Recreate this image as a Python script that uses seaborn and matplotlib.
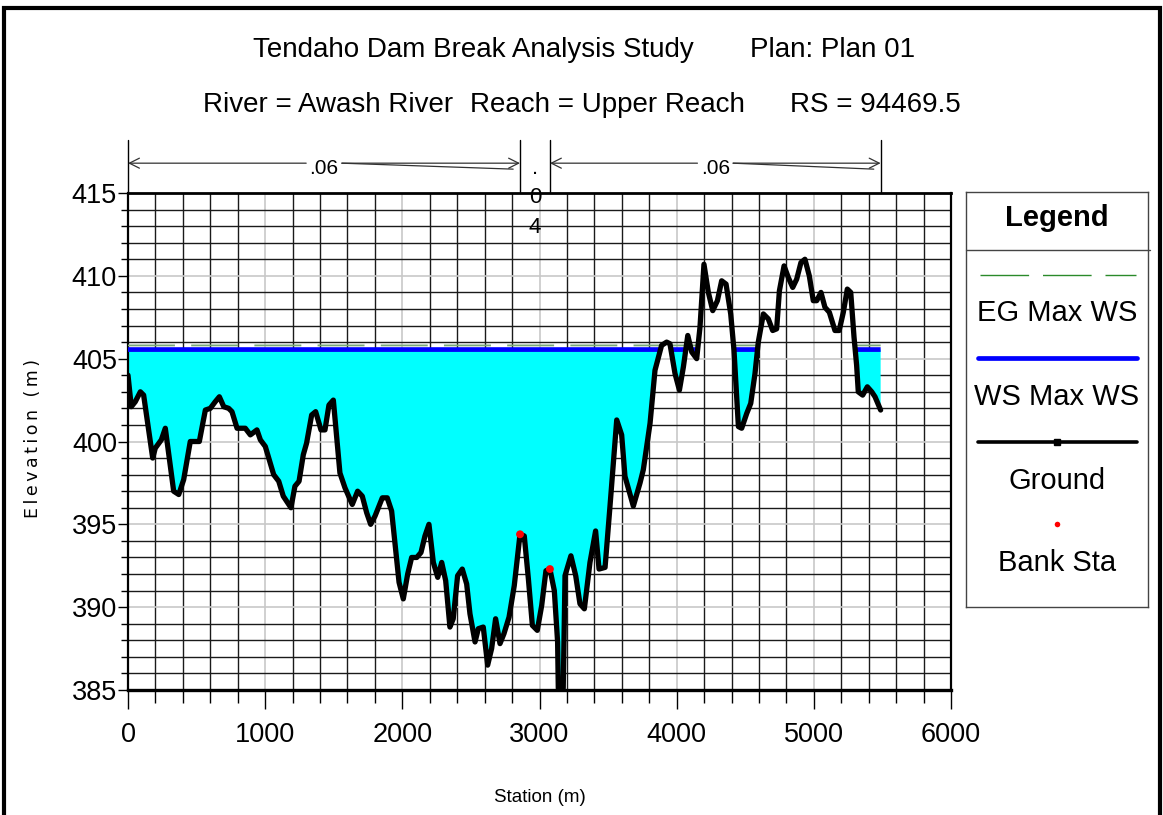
import numpy as np
import pandas as pd
import matplotlib
matplotlib.use("Agg")
import matplotlib.pyplot as plt
from matplotlib.patches import Rectangle
from matplotlib.ticker import MultipleLocator
import seaborn as sns

# Cross-section ground profile (station, elevation) in metres
station = [0, 24, 53, 90, 114, 180, 199, 243, 272, 333, 370, 406, 454, 520, 564, 600,
           636, 666, 698, 734, 758, 795, 855, 892, 940, 965, 1001, 1062, 1099, 1132, 1188,
           1217, 1247, 1278, 1302, 1339, 1368, 1407, 1436, 1465, 1497, 1545, 1582, 1635,
           1674, 1708, 1740, 1769, 1801, 1825, 1854, 1890, 1922, 1946, 1976, 2007, 2039,
           2068, 2105, 2136, 2165, 2194, 2226, 2258, 2287, 2316, 2347, 2371, 2403, 2437,
           2469, 2493, 2530, 2554, 2590, 2622, 2651, 2680, 2712, 2741, 2778, 2816, 2858,
           2889, 2919, 2948, 2984, 3016, 3047, 3076, 3108, 3132, 3137, 3173, 3186, 3229,
           3264, 3295, 3327, 3368, 3409, 3434, 3478, 3514, 3563, 3599, 3623, 3684, 3733,
           3757, 3806, 3842, 3890, 3927, 3951, 3988, 4020, 4049, 4081, 4110, 4146, 4170,
           4199, 4231, 4263, 4297, 4328, 4360, 4394, 4418, 4450, 4474, 4511, 4540, 4571,
           4595, 4632, 4668, 4700, 4729, 4749, 4783, 4814, 4846, 4875, 4906, 4935, 4967,
           4996, 5021, 5052, 5081, 5113, 5154, 5185, 5215, 5244, 5269, 5293, 5312, 5324,
           5356, 5390, 5422, 5446, 5487]
elevation = [404.0, 402.1, 402.4, 403.0, 402.8, 399.0, 399.6, 400.1, 400.8, 397.0, 396.8,
             397.7, 400.0, 400.0, 401.9, 402.0, 402.4, 402.7, 402.1, 402.0, 401.8, 400.8,
             400.8, 400.4, 400.7, 400.1, 399.7, 398.0, 397.6, 396.7, 396.0, 397.3, 397.6,
             399.2, 399.9, 401.6, 401.8, 400.7, 400.7, 402.2, 402.5, 398.1, 397.2, 396.2,
             397.0, 396.7, 395.7, 395.0, 395.5, 396.0, 396.6, 396.6, 395.8, 393.9, 391.5,
             390.5, 392.0, 393.0, 393.0, 393.3, 394.3, 395.0, 392.7, 391.8, 392.7, 391.6,
             388.8, 389.3, 391.9, 392.3, 391.4, 389.6, 387.9, 388.7, 388.8, 386.5, 387.5,
             389.3, 387.8, 388.4, 389.4, 391.3, 394.4, 394.3, 391.7, 388.9, 388.6, 390.1,
             392.2, 392.3, 391.0, 387.9, 385.1, 385.1, 391.9, 393.1, 391.9, 390.2, 389.9,
             392.7, 394.6, 392.3, 392.4, 396.1, 401.3, 400.4, 397.9, 396.1, 397.5, 398.3,
             401.1, 404.3, 405.8, 406.0, 405.9, 404.1, 403.1, 404.5, 406.4, 405.4, 405.0,
             406.9, 410.7, 409.0, 407.9, 408.5, 409.7, 409.5, 407.7, 405.5, 400.9, 400.8,
             401.7, 402.3, 404.1, 406.0, 407.7, 407.4, 406.7, 406.8, 409.1, 410.6, 409.9,
             409.3, 409.8, 410.8, 411.0, 410.0, 408.5, 408.5, 409.0, 408.1, 407.8, 406.7,
             406.7, 407.8, 409.2, 409.0, 406.3, 404.6, 403.0, 402.8, 403.3, 403.0, 402.7,
             401.9]

bank_station = [2858, 3076]
bank_elevation = [394.4, 392.3]

ws_max = 405.55   # water surface, max WS profile
eg_max = 405.80   # energy grade, max WS profile

manning_n = [".06", ".04", ".06"]
x_ticks = [0, 1000, 2000, 3000, 4000, 5000, 6000]
y_ticks = [385, 390, 395, 400, 405, 410, 415]
legend_labels = ["EG Max WS", "WS Max WS", "Ground", "Bank Sta"]

W, H = 1163, 815
sns.set_style("white")
plt.rcParams["font.family"] = ["Liberation Sans", "DejaVu Sans"]
for key in ["text.color", "axes.labelcolor", "xtick.color", "ytick.color"]:
    plt.rcParams[key] = "black"


def fx(px):
    return px / W


def fy(py):
    return 1 - py / H


fig = plt.figure(figsize=(W / 100, H / 100), dpi=100)
ax = fig.add_axes([fx(128), fy(690), fx(951) - fx(128), fy(193) - fy(690)])

df = pd.DataFrame({"station": station, "elevation": elevation})
st = np.asarray(station, float)
el = np.asarray(elevation, float)

# water body: everything below the water surface
ax.fill_between(st, el, ws_max, where=el < ws_max, interpolate=True,
                color="#00ffff", lw=0, zorder=2)

# water surface / energy grade lines only where the ground is below them
xs = np.linspace(st[0], st[-1], 8000)
gs = np.interp(xs, st, el)
wet = gs <= ws_max
ax.plot(xs, np.where(wet, eg_max, np.nan), color="#7aa87a", lw=1.3,
        dashes=(26, 9), zorder=3)
ax.plot(xs, np.where(wet, ws_max, np.nan), color="#0000ff", lw=3.4,
        solid_capstyle="butt", zorder=4)

sns.lineplot(data=df, x="station", y="elevation", sort=False, estimator=None,
             color="black", lw=3.8, ax=ax, zorder=5)
sns.scatterplot(x=bank_station, y=bank_elevation, color="#ff0000", s=32,
                edgecolor="none", ax=ax, zorder=6)

ax.set_xlim(0, 6000)
ax.set_ylim(385, 415)
ax.xaxis.set_minor_locator(MultipleLocator(200))
ax.yaxis.set_minor_locator(MultipleLocator(1))
ax.set_xticks(x_ticks)
ax.set_yticks(y_ticks)
ax.set_xticklabels([str(v) for v in x_ticks], fontsize=19.5)
ax.set_yticklabels([str(v) for v in y_ticks], fontsize=19.5)
ax.tick_params(axis="x", which="major", direction="out", length=14, width=1,
               pad=9, bottom=True)
ax.tick_params(axis="x", which="minor", direction="out", length=9, width=1,
               bottom=True)
ax.tick_params(axis="y", which="major", direction="out", length=7, width=1,
               pad=1, left=True)
ax.tick_params(axis="y", which="minor", direction="out", length=5, width=1,
               left=True)

ax.set_axisbelow(True)
ax.grid(which="minor", color="#1a1a1a", lw=1.0)
ax.grid(which="major", color="#c8c8c8", lw=1.2)
for side, sp in ax.spines.items():
    sp.set_color("black")
    sp.set_linewidth(1.6)
ax.spines["bottom"].set_linewidth(2.4)
ax.spines["top"].set_linewidth(2.0)

ax.set_xlabel("")
ax.set_ylabel("")
fig.text(fx(540), fy(797), "Station (m)", fontsize=13.5, ha="center", va="center")
fig.text(fx(33), fy(438),
         "E\u2009l\u2009e\u2009v\u2009a\u2009t\u2009i\u2009o\u2009n\u2009 \u2009(\u2009m\u2009)",
         family="DejaVu Sans", fontsize=12.5, rotation=90, ha="center", va="center")

# Manning's n regions above the section
xt = ax.get_xaxis_transform()
y_arrow = 1.060
regions = [(0, bank_station[0]), (bank_station[1], st[-1])]
for xb in [0, bank_station[0], bank_station[1], st[-1]]:
    ax.plot([xb, xb], [1.003, 1.107], transform=xt, color="black", lw=1.0,
            clip_on=False)
for (a, b), lab in zip(regions, [manning_n[0], manning_n[2]]):
    mid = (a + b) / 2
    gap = 130
    for end, start in [(a, mid - gap), (b, mid + gap)]:
        ax.annotate("", xy=(end, y_arrow), xytext=(start, y_arrow), xycoords=xt,
                    textcoords=xt,
                    arrowprops=dict(arrowstyle="->", color="#333333", lw=0.9,
                                    shrinkA=0, shrinkB=0, mutation_scale=18))
    ax.plot([mid + gap, b - 50], [y_arrow, y_arrow - 0.012], transform=xt,
            color="#333333", lw=0.9, clip_on=False)
    ax.text(mid, y_arrow + 0.008, lab, transform=xt, fontsize=15, ha="center",
            va="top")
mid_c = (bank_station[0] + bank_station[1]) / 2
for ch, yy in zip(manning_n[1], [1.05, 0.99, 0.93]):
    ax.text(mid_c, yy, ch, transform=xt, fontsize=16, ha="center", va="center")

# Titles
title_kw = dict(fontsize=20, ha="left", va="center")
fig.text(fx(253), fy(50), "Tendaho Dam Break Analysis Study", **title_kw)
fig.text(fx(750), fy(50), "Plan: Plan 01", **title_kw)
fig.text(fx(203), fy(105), "River = Awash River", **title_kw)
fig.text(fx(470), fy(105), "Reach = Upper Reach", **title_kw)
fig.text(fx(790), fy(105), "RS = 94469.5", **title_kw)

# Legend panel
lg = fig.add_axes([fx(966), fy(607), fx(1148) - fx(966), fy(192) - fy(607)])
lg.set_xlim(0, 1)
lg.set_ylim(0, 1)
lg.set_xticks([])
lg.set_yticks([])
for sp in lg.spines.values():
    sp.set_color("#444444")
    sp.set_linewidth(1.0)
lg.text(0.5, 0.937, "Legend", fontsize=21, weight="bold", ha="center", va="center")
lg.plot([0, 1.01], [0.860, 0.860], color="#444444", lw=1.0, clip_on=False)
lg.plot([0.077, 0.934], [0.800, 0.800], color="#2a8a2a", lw=1.0, dashes=(35, 10))
lg.text(0.5, 0.708, legend_labels[0], fontsize=21, ha="center", va="center")
lg.plot([0.066, 0.94], [0.600, 0.600], color="#0000ff", lw=3.4,
        solid_capstyle="round")
lg.text(0.5, 0.506, legend_labels[1], fontsize=21, ha="center", va="center")
lg.plot([0.066, 0.94], [0.398, 0.398], color="black", lw=2.6)
lg.plot([0.5], [0.398], marker="s", ms=4, color="black")
lg.text(0.5, 0.304, legend_labels[2], fontsize=21, ha="center", va="center")
lg.plot([0.5], [0.200], marker="o", ms=4, color="#ff0000", mec="none")
lg.text(0.5, 0.106, legend_labels[3], fontsize=21, ha="center", va="center")

# Outer frame
fig.patches.append(Rectangle((fx(3.5), -0.1), fx(1159.5) - fx(3.5), fy(8) + 0.1,
                             transform=fig.transFigure, fill=False,
                             edgecolor="black", lw=3.0))

fig.savefig("out.png", dpi=100)
